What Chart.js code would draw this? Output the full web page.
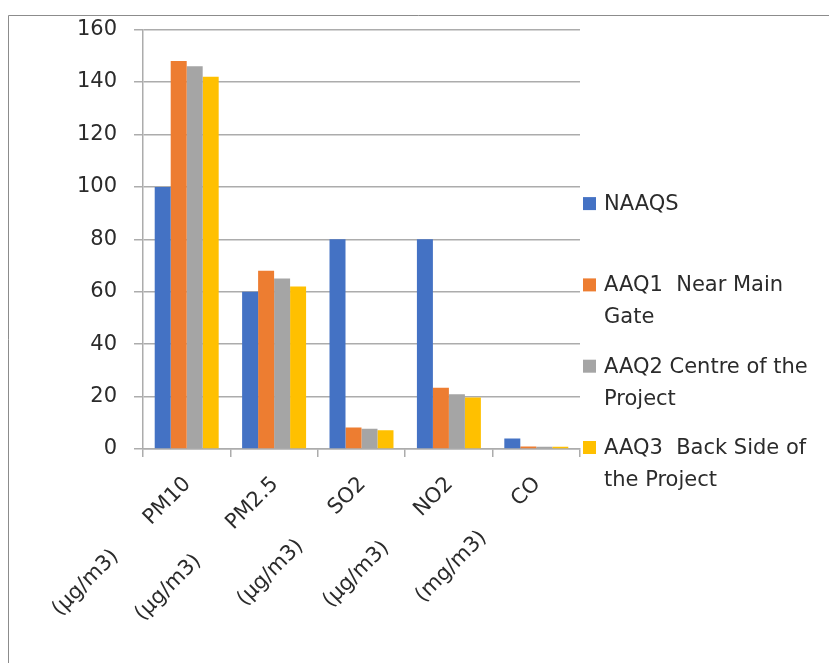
<!DOCTYPE html>
<html><head><meta charset="utf-8">
<script src="https://cdn.jsdelivr.net/npm/chart.js@4.4.1/dist/chart.umd.min.js"></script>
<style>html,body{margin:0;padding:0;background:#fff;overflow:hidden}
#wrap{position:absolute;left:0;top:0;width:829px;height:663px}</style>
</head><body><div id="wrap"><canvas id="c" width="829" height="663"></canvas></div>
<script>
// ---- data ----
const pollutants = ['PM10', 'PM2.5', 'SO2', 'NO2', 'CO'];
const units = ['(µg/m3)', '(µg/m3)', '(µg/m3)', '(µg/m3)', '(mg/m3)'];
const seriesNames = ['NAAQS', 'AAQ1  Near Main Gate', 'AAQ2 Centre of the Project', 'AAQ3  Back Side of the Project'];
const naaqs = [100, 60, 80, 80, 4];
const aaq1 = [148, 68, 8.2, 23.4, 1.0];
const aaq2 = [146, 65, 7.7, 20.9, 0.9];
const aaq3 = [142, 62, 7.2, 19.6, 0.85];
const yMin = 0, yMax = 160, yStep = 20;

// ---- styles ----
const colors = ['#4472C4', '#ED7D31', '#A5A5A5', '#FFC000'];
const SEP = '\u2002\u2002\u2002  ';
const FONT = '"DejaVu Sans", sans-serif';
const TEXT = '#2b2b2b';
const GRID = '#acacac';

const labels = pollutants.map((p, i) => units[i] + SEP + p);
const series = [naaqs, aaq1, aaq2, aaq3];

function wrap(ctx, text, maxW) {
  const words = text.split(' ');
  const lines = [];
  let cur = '';
  for (const w of words) {
    const test = cur === '' ? w : cur + ' ' + w;
    if (cur !== '' && w !== '' && ctx.measureText(test).width > maxW) {
      lines.push(cur);
      cur = w;
    } else cur = test;
  }
  lines.push(cur);
  return lines;
}

const frame = {
  id: 'frame',
  beforeDraw(chart) {
    const ctx = chart.ctx;
    ctx.save();
    ctx.fillStyle = '#fff';
    ctx.fillRect(0, 0, chart.width, chart.height);
    ctx.strokeStyle = '#8c8c8c';
    ctx.lineWidth = 1;
    ctx.beginPath();
    ctx.moveTo(8.5, chart.height);
    ctx.lineTo(8.5, 15.5);
    ctx.lineTo(chart.width, 15.5);
    ctx.stroke();
    ctx.restore();
  }
};

const sideLegend = {
  id: 'sideLegend',
  afterDraw(chart, args, o) {
    const ctx = chart.ctx, a = chart.chartArea;
    ctx.save();
    ctx.font = o.font;
    ctx.textAlign = 'left';
    ctx.textBaseline = 'alphabetic';
    chart.data.datasets.forEach((ds, i) => {
      const lines = wrap(ctx, ds.label, o.maxWidth);
      const base = a.top + o.firstOffset + i * o.slot;
      ctx.fillStyle = ds.backgroundColor;
      ctx.fillRect(a.right + o.boxOffset, base - o.boxSize, o.boxSize, o.boxSize);
      ctx.fillStyle = o.color;
      lines.forEach((ln, j) => ctx.fillText(ln, a.right + o.textOffset, base + j * o.lineHeight));
    });
    ctx.restore();
  }
};

new Chart(document.getElementById('c'), {
  type: 'bar',
  data: {
    labels: labels,
    datasets: series.map((d, i) => ({
      label: seriesNames[i],
      data: d,
      backgroundColor: colors[i],
      borderWidth: 0,
      categoryPercentage: 0.732,
      barPercentage: 1.0
    }))
  },
  options: {
    responsive: false,
    animation: false,
    devicePixelRatio: 1,
    layout: { padding: { top: 27, right: 249, left: 0, bottom: 0 } },
    plugins: {
      legend: { display: false },
      tooltip: { enabled: false },
      sideLegend: {
        font: '21px ' + FONT, color: TEXT, maxWidth: 222,
        firstOffset: 180.5, slot: 81.3, lineHeight: 32,
        boxOffset: 3, boxSize: 13, textOffset: 24
      }
    },
    scales: {
      x: {
        grid: { display: true, drawOnChartArea: false, drawTicks: true, tickLength: 8, color: GRID, lineWidth: 1.5, offset: true },
        border: { display: true, color: GRID, width: 1.5 },
        ticks: { color: TEXT, font: { family: FONT, size: 21 }, minRotation: 45, maxRotation: 45, autoSkip: false, padding: 15, labelOffset: 1 },
        afterFit(s) { s.height = 214; }
      },
      y: {
        min: yMin, max: yMax,
        grid: { color: GRID, lineWidth: 1.5, drawTicks: true, tickLength: 9 },
        border: { display: true, color: GRID, width: 1.5 },
        ticks: { stepSize: yStep, color: TEXT, font: { family: FONT, size: 21 }, padding: 17 },
        afterFit(s) { s.width = 143; }
      }
    }
  },
  plugins: [frame, sideLegend]
});
</script></body></html>
